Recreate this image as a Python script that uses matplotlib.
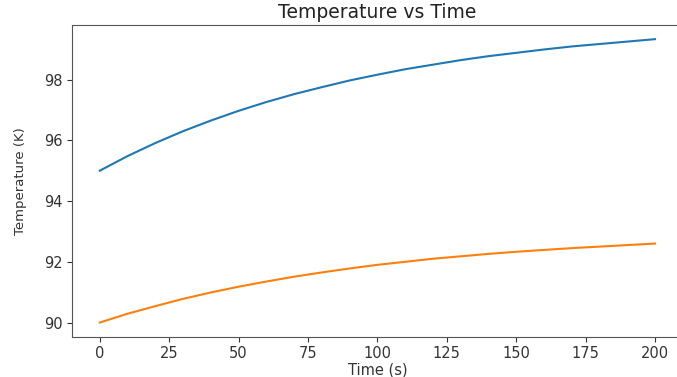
import matplotlib
matplotlib.use("Agg")
import matplotlib.pyplot as plt

# time samples (s) and temperatures
time_s = [0, 10, 20, 30, 40, 50, 60, 70, 80, 90, 100,
          110, 120, 130, 140, 150, 160, 170, 180, 190, 200]
temp_a = [95.00, 95.48, 95.91, 96.30, 96.65, 96.97, 97.26, 97.52, 97.75, 97.97, 98.16,
          98.34, 98.49, 98.64, 98.77, 98.88, 98.99, 99.09, 99.17, 99.25, 99.33]
temp_b = [90.00, 90.29, 90.54, 90.78, 90.99, 91.18, 91.35, 91.51, 91.65, 91.78, 91.90,
          92.00, 92.10, 92.18, 92.26, 92.33, 92.39, 92.45, 92.50, 92.55, 92.60]

x_ticks = [0, 25, 50, 75, 100, 125, 150, 175, 200]
y_ticks = [90, 92, 94, 96, 98]

fig = plt.figure(figsize=(6.77, 3.77), dpi=100)
ax = fig.add_axes([0.1064, 0.1069, 0.9021, 0.8268])

ax.plot(time_s, temp_a, color="#1f77b4", lw=1.5)
ax.plot(time_s, temp_b, color="#ff7f0e", lw=1.5)

ax.set_xticks(x_ticks)
ax.set_yticks(y_ticks)
ax.tick_params(labelsize=10.5, colors="#333333", labelcolor="#333333")
for s in ax.spines.values():
    s.set_color("#555555")
# the original picture was cropped just before the right edge
ax.spines["right"].set_visible(False)

ax.set_title("Temperature vs Time", fontsize=13.5, color="#222222", pad=5)
ax.set_xlabel("Time (s)", fontsize=10.5, color="#333333", labelpad=1)
ax.set_ylabel("Temperature (K)", fontsize=9.5, color="#333333", labelpad=12)

fig.savefig("out.png", dpi=100)
